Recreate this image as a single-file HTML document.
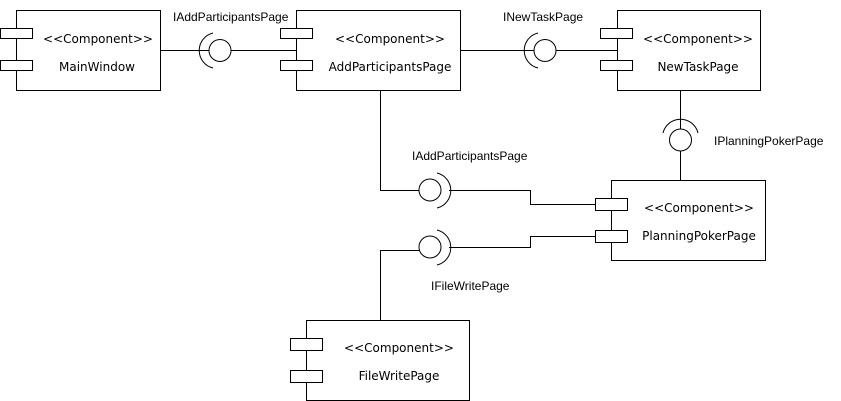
<!DOCTYPE html>
<html><head><meta charset="utf-8"><style>body{margin:0;background:#fff}svg{display:block}text.b{font-family:"DejaVu Sans",sans-serif;font-size:12px}text.l{font-family:"Liberation Sans",sans-serif;font-size:12px}</style></head><body>
<svg width="841" height="401" viewBox="0 0 841 401" xmlns="http://www.w3.org/2000/svg">
<g fill="#fff" stroke="#000" stroke-width="1">
<rect x="16.5" y="10.5" width="144" height="80"/>
<rect x="0.5" y="28.5" width="32" height="10"/><rect x="0.5" y="60.5" width="32" height="10"/>
<rect x="296.5" y="10.5" width="164" height="80"/>
<rect x="280.5" y="28.5" width="32" height="10"/><rect x="280.5" y="60.5" width="32" height="10"/>
<rect x="617.5" y="10.5" width="143" height="80"/>
<rect x="600.5" y="28.5" width="32" height="10"/><rect x="600.5" y="60.5" width="32" height="10"/>
<rect x="611.5" y="180.5" width="154" height="80"/>
<rect x="595.5" y="198.5" width="32" height="12"/><rect x="595.5" y="230.5" width="32" height="12"/>
<rect x="306.5" y="320.5" width="163" height="80"/>
<rect x="290.5" y="338.5" width="32" height="12"/><rect x="290.5" y="370.5" width="32" height="12"/>
</g>
<g fill="none" stroke="#000" stroke-width="1">
<path d="M160.5 50.5H209"/><circle cx="220" cy="50.5" r="11"/><path d="M231 50.5H296"/>
<path d="M213 33 A18 18 0 0 0 213 68"/>
<path d="M460.5 50.5H534"/><circle cx="545" cy="50.5" r="11"/><path d="M556 50.5H617"/>
<path d="M538 33 A18 18 0 0 0 538 68"/>
<path d="M680.5 90.5V129"/><circle cx="680.5" cy="140" r="11"/><path d="M680.5 151V180"/>
<path d="M663 133 A18 18 0 0 1 698 133"/>
<path d="M380.5 90.5V190.5H419"/><circle cx="430" cy="190" r="11"/>
<path d="M437 173 A18 18 0 0 1 437 208"/>
<path d="M449 190.5H530.5V204.5H595"/>
<path d="M380.5 320V250.5H419"/><circle cx="430" cy="247" r="11"/>
<path d="M437 230 A18 18 0 0 1 437 265"/>
<path d="M449 247.5H530.5V236.5H595"/>
<path d="M611.5 210.5V230.5"/>
</g>
<g text-anchor="middle">
<text class="b" x="98" y="43">&lt;&lt;Component&gt;&gt;</text><text class="b" x="97" y="71">MainWindow</text>
<text class="b" x="390" y="43">&lt;&lt;Component&gt;&gt;</text><text class="b" x="390" y="71">AddParticipantsPage</text>
<text class="b" x="698" y="43">&lt;&lt;Component&gt;&gt;</text><text class="b" x="698" y="71">NewTaskPage</text>
<text class="b" x="699" y="212">&lt;&lt;Component&gt;&gt;</text><text class="b" x="699" y="240">PlanningPokerPage</text>
<text class="b" x="399" y="352">&lt;&lt;Component&gt;&gt;</text><text class="b" x="399" y="380">FileWritePage</text>
</g>
<text class="l" x="173" y="21">IAddParticipantsPage</text>
<text class="l" x="503" y="21">INewTaskPage</text>
<text class="l" x="714" y="145">IPlanningPokerPage</text>
<text class="l" x="412" y="160">IAddParticipantsPage</text>
<text class="l" x="431" y="290">IFileWritePage</text>
</svg>
</body></html>
